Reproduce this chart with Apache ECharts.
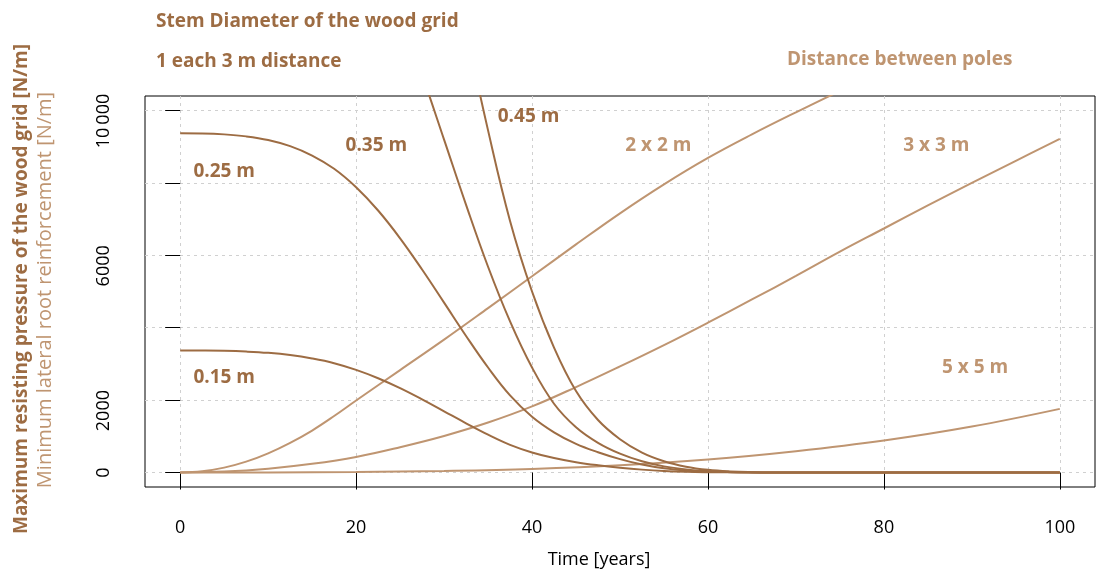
<!DOCTYPE html>
<html><head><meta charset="utf-8">
<script src="https://cdn.jsdelivr.net/npm/echarts@6/dist/echarts.min.js"></script>
<style>html,body{margin:0;padding:0;background:#fff}#c{width:1102px;height:571px}</style>
</head><body><div id="c"></div>
<script>
// ---- data ----
const xTicks = [0, 20, 40, 60, 80, 100];
const yTicks = [0, 2000, 4000, 6000, 8000, 10000];
const yTickLabels = [0, 2000, 6000, 10000];

const tStem = [0, 2.5, 5, 7.5, 10, 12.5, 15, 17.5, 20, 22.5, 25, 27.5, 30, 32.5, 35, 37.5, 40, 42.5, 45, 47.5, 50, 52.5, 55, 57.5, 60, 62.5, 65, 67.5, 70, 80, 90, 100];
const v015 = [3370, 3368, 3360, 3340, 3305, 3245, 3150, 3020, 2835, 2605, 2330, 2020, 1690, 1360, 1045, 765, 555, 400, 285, 200, 133, 80, 42, 20, 9, 4, 1, 0, 0, 0, 0, 0];
const v025 = [9370, 9365, 9340, 9285, 9185, 9015, 8755, 8390, 7880, 7237, 6470, 5607, 4692, 3772, 2900, 2130, 1540, 1110, 790, 560, 370, 220, 115, 55, 25, 10, 3, 0, 0, 0, 0, 0];

const t035 = [25, 27.5, 30, 32.5, 35, 37.5, 40, 42.5, 45, 47.5, 50, 52.5, 55, 57.5, 60, 62.5, 65, 67.5, 70, 80, 90, 100];
const v035 = [12680, 10990, 9196, 7393, 5684, 4175, 2900, 1900, 1250, 820, 520, 310, 170, 85, 38, 15, 5, 1, 0, 0, 0, 0];

const t045 = [32.5, 35, 37.5, 40, 42.5, 45, 47.5, 50, 52.5, 55, 57.5, 60, 62.5, 65, 67.5, 70, 80, 90, 100];
const v045 = [12220, 9450, 6950, 5000, 3450, 2250, 1450, 920, 550, 312, 162, 75, 30, 10, 2, 0, 0, 0, 0];

const t2x2 = [0, 2.5, 5, 7.5, 10, 12.5, 15, 17.5, 20, 25, 30, 35, 40, 45, 50, 55, 60, 65, 70, 75];
const v2x2 = [0, 35, 135, 300, 530, 820, 1160, 1560, 1990, 2830, 3670, 4540, 5420, 6300, 7160, 7960, 8690, 9340, 9950, 10540];

const t3x3 = [0, 5, 10, 15, 20, 25, 30, 35, 40, 45, 50, 55, 60, 65, 70, 75, 80, 85, 90, 95, 100];
const v3x3 = [0, 25, 105, 240, 430, 700, 1010, 1380, 1825, 2360, 2930, 3520, 4140, 4780, 5430, 6100, 6740, 7380, 8000, 8610, 9218];

const t5x5 = [0, 10, 20, 30, 40, 50, 60, 70, 80, 90, 100];
const v5x5 = [0, 3, 15, 45, 100, 200, 360, 590, 884, 1270, 1758];

const seriesNames = ['0.15 m', '0.25 m', '0.35 m', '0.45 m', '2 x 2 m', '3 x 3 m', '5 x 5 m'];
const seriesT = [tStem, tStem, t035, t045, t2x2, t3x3, t5x5];
const seriesV = [v015, v025, v035, v045, v2x2, v3x3, v5x5];
const seriesGroup = ['stem', 'stem', 'stem', 'stem', 'pole', 'pole', 'pole'];

// annotation anchor points (data coords: left edge, vertical middle)
const annT = [1.5, 1.5, 18.8, 36.1, 50.6, 82.2, 86.6];
const annV = [2624, 8315, 9033, 9834, 9033, 9033, 2900];

// ---- styles ----
const DARK = '#9d6c43';
const LIGHT = '#bf9571';
const FONT = '"Open Sans", "DejaVu Sans", sans-serif';

const chart = echarts.init(document.getElementById('c'), null, {renderer: 'canvas'});

const series = seriesNames.map((n, i) => ({
  name: n,
  type: 'line',
  data: seriesT[i].map((t, k) => [t, seriesV[i][k]]),
  showSymbol: false,
  smooth: 0.4,
  clip: true,
  lineStyle: {width: 2, color: seriesGroup[i] === 'stem' ? DARK : LIGHT},
  z: seriesGroup[i] === 'stem' ? 3 : 2
}));

chart.setOption({
  animation: false,
  backgroundColor: '#fff',
  grid: {left: 145, right: 7, top: 96, bottom: 84, show: true, borderColor: '#000', borderWidth: 1, backgroundColor: 'transparent'},
  xAxis: {
    type: 'value', min: -4, max: 104,
    axisLine: {show: false},
    axisTick: {show: true, length: 17, customValues: xTicks, lineStyle: {color: '#000', width: 1}},
    axisLabel: {customValues: xTicks, margin: 32, color: '#000', fontSize: 18, fontFamily: FONT},
    splitLine: {show: true, lineStyle: {color: '#d0d0d0', type: [3, 4], width: 1}}
  },
  yAxis: {
    type: 'value', min: -400, max: 10400,
    axisLine: {show: false},
    axisTick: {show: true, length: 15, customValues: yTicks, lineStyle: {color: '#000', width: 1}},
    axisLabel: {customValues: yTickLabels, rotate: 90, margin: 32, color: '#000', fontSize: 18, fontFamily: FONT,
      formatter: v => v === 0 ? '0' : '{p|' + (v === 10000 ? '10\u2009000' : String(v)) + '}',
      rich: {p: {fontSize: 18, fontFamily: FONT, color: '#000', padding: [0, 21, 0, 0]}}},
    splitLine: {show: true, lineStyle: {color: '#d0d0d0', type: [3, 4], width: 1}}
  },
  series: series
});

function labelGraphics() {
  const g = [];
  g.push({type: 'text', x: 156, y: 22, style: {text: 'Stem Diameter of the wood grid', fill: DARK, font: `bold 19px ${FONT}`, textVerticalAlign: 'middle'}});
  g.push({type: 'text', x: 156, y: 62, style: {text: '1 each 3 m distance', fill: DARK, font: `bold 19px ${FONT}`, textVerticalAlign: 'middle'}});
  g.push({type: 'text', x: 787, y: 60, style: {text: 'Distance between poles', fill: LIGHT, font: `bold 19px ${FONT}`, textVerticalAlign: 'middle'}});
  g.push({type: 'text', x: 599, y: 560, style: {text: 'Time [years]', fill: '#000', font: `18px ${FONT}`, textAlign: 'center', textVerticalAlign: 'middle'}});
  g.push({type: 'text', x: 22, y: 289, rotation: Math.PI / 2, style: {text: 'Maximum resisting pressure of the wood grid [N/m]', fill: DARK, font: `bold 19px ${FONT}`, textAlign: 'center', textVerticalAlign: 'middle'}});
  g.push({type: 'text', x: 45, y: 290, rotation: Math.PI / 2, style: {text: 'Minimum lateral root reinforcement [N/m]', fill: LIGHT, font: `20px ${FONT}`, textAlign: 'center', textVerticalAlign: 'middle'}});
  seriesNames.forEach((n, i) => {
    const p = chart.convertToPixel({gridIndex: 0}, [annT[i], annV[i]]);
    g.push({type: 'text', x: p[0], y: p[1], z: 10, style: {text: n, fill: seriesGroup[i] === 'stem' ? DARK : LIGHT, font: `bold 19px ${FONT}`, textVerticalAlign: 'middle'}});
  });
  return g;
}
chart.setOption({graphic: labelGraphics()});
</script></body></html>
